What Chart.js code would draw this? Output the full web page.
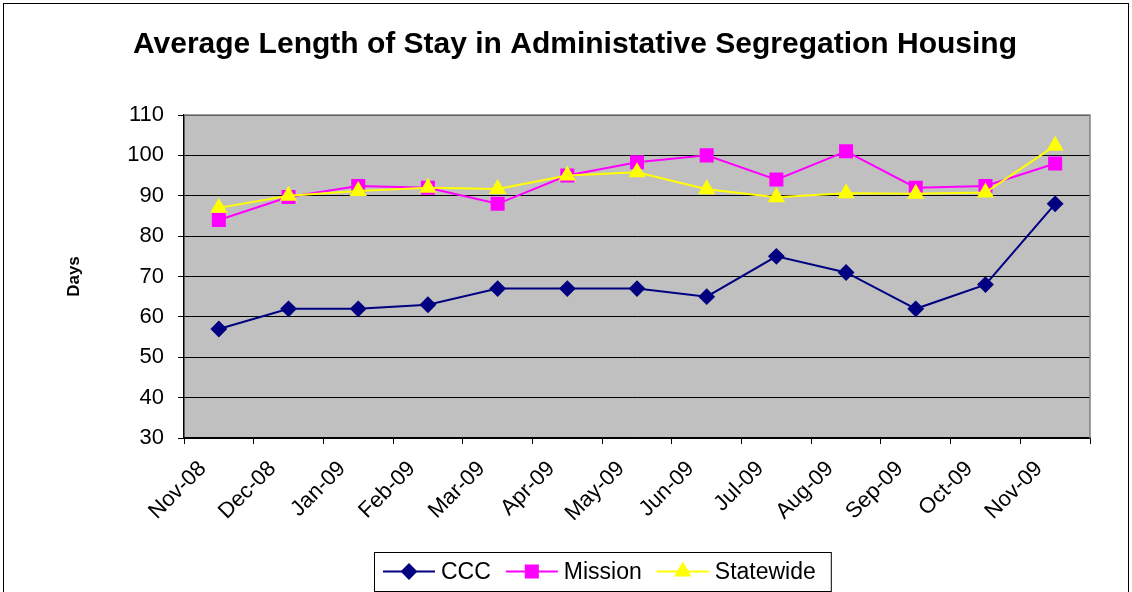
<!DOCTYPE html>
<html lang="en">
<head>
  <meta charset="UTF-8">
  <title>Average Length of Stay</title>
  <script src="https://cdn.jsdelivr.net/npm/chart.js"></script>
  <style>
    body {
      margin: 0;
      background: #fff;
    }
    #wrap {
      width: 1132px;
      height: 592px;
    }
  </style>
</head>
<body>
  <div id="wrap"><canvas id="losChart"></canvas></div>

  <script>
    const months = ['Nov-08', 'Dec-08', 'Jan-09', 'Feb-09', 'Mar-09', 'Apr-09', 'May-09',
                    'Jun-09', 'Jul-09', 'Aug-09', 'Sep-09', 'Oct-09', 'Nov-09'];
    const cccDays = [57, 62, 62, 63, 67, 67, 67, 65, 75, 71, 62, 68, 88];
    const missionDays = [84, 89.7, 92.4, 92, 88, 95, 98.3, 100, 94, 101, 92, 92.4, 98];
    const statewideDays = [87, 90, 91.2, 92, 91.7, 95, 95.8, 91.6, 89.6, 90.6, 90.5, 90.8, 102.4];

    const FONT = "'Liberation Sans', Arial, sans-serif";

    // grey plot background, outer frame, right/top plot border
    const frame = {
      id: 'frame',
      beforeDraw(chart) {
        const { ctx, chartArea: a } = chart;
        ctx.save();
        ctx.fillStyle = '#c0c0c0';
        ctx.fillRect(a.left, a.top, a.right - a.left, a.bottom - a.top);
        ctx.strokeStyle = '#000';
        ctx.lineWidth = 1;
        ctx.strokeRect(3.5, 3.5, chart.width - 7, chart.height + 10);
        ctx.restore();
      },
      afterDatasetsDraw(chart) {
        const { ctx, chartArea: a } = chart;
        ctx.save();
        ctx.strokeStyle = '#808080';
        ctx.lineWidth = 1.5;
        ctx.beginPath();
        ctx.moveTo(a.left, a.top);
        ctx.lineTo(a.right, a.top);
        ctx.lineTo(a.right, a.bottom);
        ctx.stroke();
        ctx.restore();
      }
    };

    // Excel-style legend: line with marker, boxed
    const boxLegend = {
      id: 'boxLegend',
      afterDraw(chart) {
        const { ctx } = chart;
        const boxLeft = 374, boxTop = 552, boxH = 39;
        const lineW = 52;
        ctx.save();
        ctx.font = '23px ' + FONT;
        let x = boxLeft + 9;
        const cy = boxTop + boxH / 2;
        chart.data.datasets.forEach(ds => {
          ctx.strokeStyle = ds.borderColor;
          ctx.lineWidth = 2;
          ctx.beginPath();
          ctx.moveTo(x, cy);
          ctx.lineTo(x + lineW, cy);
          ctx.stroke();
          ctx.fillStyle = ds.pointBackgroundColor;
          ctx.strokeStyle = ds.pointBackgroundColor;
          Chart.helpers.drawPoint(ctx, {
            pointStyle: ds.pointStyle,
            radius: ds.pointRadius,
            borderWidth: 1
          }, x + lineW / 2, cy);
          x += lineW + 6;
          ctx.fillStyle = '#000';
          ctx.textBaseline = 'middle';
          ctx.fillText(ds.label, x, cy + 1);
          x += ctx.measureText(ds.label).width + 15;
        });
        ctx.strokeStyle = '#000';
        ctx.lineWidth = 1;
        ctx.strokeRect(boxLeft + 0.5, boxTop + 0.5, x - boxLeft, boxH);
        ctx.restore();
      }
    };

    const data = {
      labels: months,
      datasets: [
        {
          label: 'CCC',
          data: cccDays,
          order: 2,
          borderColor: '#000080',
          backgroundColor: '#000080',
          pointBackgroundColor: '#000080',
          pointBorderColor: '#000080',
          pointStyle: 'rectRot',
          pointRadius: 7,
          borderWidth: 2,
          tension: 0
        },
        {
          label: 'Mission',
          data: missionDays,
          order: 1,
          borderColor: '#ff00ff',
          backgroundColor: '#ff00ff',
          pointBackgroundColor: '#ff00ff',
          pointBorderColor: '#ff00ff',
          pointStyle: 'rect',
          pointRadius: 8.5,
          borderWidth: 2,
          tension: 0
        },
        {
          label: 'Statewide',
          data: statewideDays,
          order: 0,
          borderColor: '#ffff00',
          backgroundColor: '#ffff00',
          pointBackgroundColor: '#ffff00',
          pointBorderColor: '#ffff00',
          pointStyle: 'triangle',
          pointRadius: 8,
          borderWidth: 2,
          tension: 0
        }
      ]
    };

    const config = {
      type: 'line',
      data: data,
      plugins: [frame, boxLegend],
      options: {
        responsive: true,
        maintainAspectRatio: false,
        animation: false,
        layout: {
          padding: { left: 60, right: 42, top: 0, bottom: 0 }
        },
        plugins: {
          legend: { display: false },
          tooltip: { enabled: false },
          title: {
            display: true,
            text: 'Average Length of Stay in Administative Segregation Housing',
            color: '#000',
            font: { family: FONT, size: 30, weight: 'bold' },
            padding: { top: 27, bottom: 52 }
          }
        },
        scales: {
          x: {
            offset: true,
            afterFit: s => { s.height = 154; },
            grid: {
              offset: true,
              drawOnChartArea: false,
              drawTicks: true,
              tickLength: 6,
              color: '#000'
            },
            border: { color: '#000', width: 1.5 },
            ticks: {
              color: '#000',
              font: { family: FONT, size: 22 },
              minRotation: 45,
              maxRotation: 45,
              autoSkip: false,
              padding: 12,
              labelOffset: -16
            }
          },
          y: {
            min: 30,
            max: 110,
            afterFit: s => { s.width = 124; },
            grid: {
              color: '#000',
              lineWidth: 1,
              tickLength: 6
            },
            border: { color: '#000', width: 1.5 },
            ticks: {
              stepSize: 10,
              color: '#000',
              padding: 14,
              font: { family: FONT, size: 22 }
            },
            title: {
              display: true,
              text: 'Days',
              color: '#000',
              font: { family: FONT, size: 17, weight: 'bold' }
            }
          }
        }
      }
    };

    new Chart(document.getElementById('losChart'), config);
  </script>
</body>
</html>
